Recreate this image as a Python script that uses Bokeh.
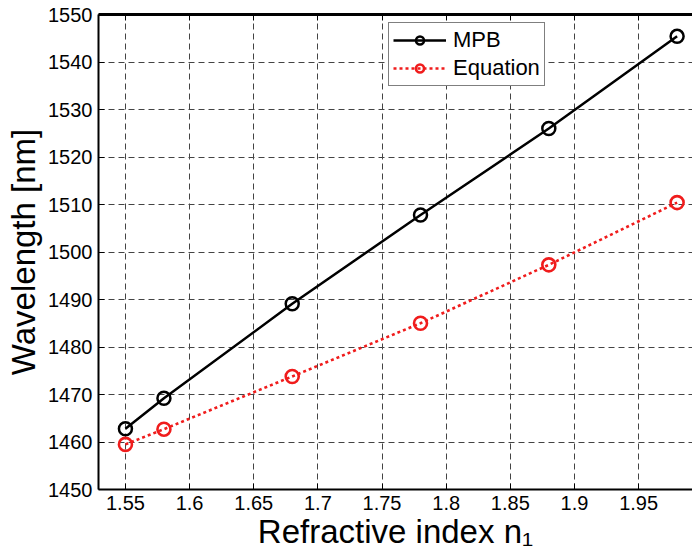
from bokeh.plotting import figure
from bokeh.models import (LinearAxis, Range1d, FixedTicker, Legend, LegendItem,
                          CustomJSTickFormatter)
from bokeh.embed import file_html
from bokeh.resources import INLINE

n1 = [1.55, 1.58, 1.68, 1.78, 1.88, 1.98]
mpb = [1462.8, 1469.2, 1489.1, 1507.8, 1526.0, 1545.4]
equation = [1459.5, 1462.7, 1473.8, 1485.0, 1497.3, 1510.4]
x_ticks = [1.55, 1.6, 1.65, 1.7, 1.75, 1.8, 1.85, 1.9, 1.95]
y_ticks = [1450, 1460, 1470, 1480, 1490, 1500, 1510, 1520, 1530, 1540, 1550]

FONT = "Liberation Sans"

p = figure(width=692, height=553, output_backend="svg", toolbar_location=None,
           x_range=Range1d(1.529, 1.992), y_range=Range1d(1450, 1550),
           min_border_left=98, min_border_right=0, min_border_top=14, min_border_bottom=64,
           x_axis_label="Refractive index n\u2081", y_axis_label="Wavelength [nm]")
p.outline_line_color = None
p.background_fill_color = "white"
p.border_fill_color = "white"

for ax in (p.xaxis[0], p.yaxis[0]):
    ax.major_tick_in = 6
    ax.major_tick_out = 0
    ax.minor_tick_in = 0
    ax.minor_tick_out = 0
    ax.axis_line_width = 2
    ax.axis_line_color = "black"
    ax.major_tick_line_color = "black"
    ax.major_label_text_font = FONT
    ax.major_label_text_font_size = "20px"
    ax.major_label_text_color = "black"
    ax.axis_label_text_font = FONT
    ax.axis_label_text_font_style = "normal"
    ax.axis_label_text_color = "black"

p.xaxis[0].axis_label_text_font_size = "33px"
p.yaxis[0].axis_label_text_font_size = "33px"
p.xaxis[0].ticker = FixedTicker(ticks=x_ticks)
p.yaxis[0].ticker = FixedTicker(ticks=y_ticks)
p.xaxis[0].major_label_standoff = 6
p.yaxis[0].major_label_standoff = 6
p.xaxis[0].axis_label_standoff = 0
p.yaxis[0].axis_label_standoff = 3

top = LinearAxis(ticker=FixedTicker(ticks=x_ticks),
                 formatter=CustomJSTickFormatter(code="return '';"),
                 major_tick_in=6, major_tick_out=0, minor_tick_in=0, minor_tick_out=0,
                 axis_line_width=3, axis_line_color="black")
p.add_layout(top, "above")

for g in (p.xgrid[0], p.ygrid[0]):
    g.grid_line_color = "#444444"
    g.grid_line_dash = "6 4"
    g.grid_line_width = 1
    g.grid_line_alpha = 1.0

RED = "#f01c1c"
l1 = p.line(n1, mpb, line_color="black", line_width=2.5)
s1 = p.scatter(n1, mpb, marker="circle", size=13, fill_color=None,
               line_color="black", line_width=2.5)
l2 = p.line(n1, equation, line_color=RED, line_width=2.6, line_dash="3 3")
s2 = p.scatter(n1, equation, marker="circle", size=13, fill_color=None,
               line_color=RED, line_width=2.6)

legend = Legend(items=[LegendItem(label="MPB", renderers=[l1, s1]),
                       LegendItem(label="Equation", renderers=[l2, s2])],
                location=(290, 403), ncols=1)
legend.label_text_font = FONT
legend.label_text_font_size = "22px"
legend.label_text_color = "black"
legend.glyph_width = 53
legend.glyph_height = 20
legend.label_height = 20
legend.label_width = 0
legend.label_standoff = 7
legend.padding = 4
legend.spacing = 2
legend.margin = 0
legend.border_line_color = "black"
legend.border_line_width = 1
legend.background_fill_alpha = 1.0
p.add_layout(legend, "center")

open("out.html", "w").write(file_html(p, INLINE))
